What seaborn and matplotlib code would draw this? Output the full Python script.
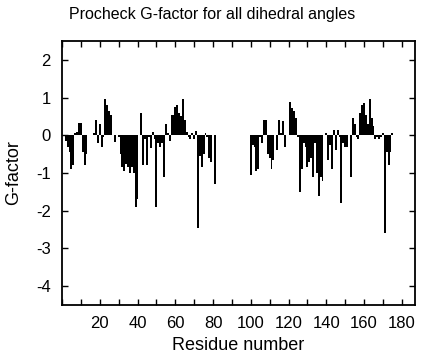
import numpy as np
import matplotlib
matplotlib.use("Agg")
import matplotlib.pyplot as plt
from matplotlib.ticker import MultipleLocator
import seaborn as sns
import pandas as pd

sns.set_style("ticks", {"axes.edgecolor": "black", "text.color": "black",
                        "axes.labelcolor": "black", "xtick.color": "black",
                        "ytick.color": "black"})
plt.rcParams['font.family'] = ['Liberation Sans', 'DejaVu Sans']
plt.rcParams['axes.unicode_minus'] = False

# residues 1-81 and 100-175, G-factor per residue
res_a = list(range(1, 82))
gf_a = [0.0, -0.15, -0.3, -0.45, -0.9, -0.8, 0.05, 0.08, 0.32, 0.32,
        -0.45, -0.8, -0.5, 0.0, 0.0, 0.0, 0.05, 0.4, -0.2, 0.3,
        -0.3, -0.05, 0.95, 0.8, 0.65, 0.55, 0.0, -0.18, 0.0, -0.05,
        -0.5, -0.85, -0.95, -0.75, -0.85, -1.0, -0.85, -1.0, -1.9, -1.7,
        0.0, 0.6, -0.8, -0.1, -0.8, -0.05, -0.35, 0.1, -0.1, -1.9,
        -0.2, -0.3, -0.2, -1.1, 0.3, 0.05, -0.15, 0.55, 0.55, 0.75,
        0.8, 0.6, 0.5, 0.97, 0.4, 0.1, -0.05, -0.1, 0.05, -0.1,
        0.12, -2.45, -0.55, -0.85, -0.5, 0.05, -0.05, -0.6, -0.7, 0.0,
        -1.3]
res_b = list(range(100, 176))
gf_b = [-1.05, -0.25, -0.3, -0.95, -0.9, -0.05, -0.2, 0.4, 0.4, -0.5,
        -0.6, -0.9, -0.65, 0.0, -0.4, 0.4, 0.05, 0.38, -0.3, 0.0,
        0.0, 0.88, 0.72, 0.65, 0.45, -0.05, -1.5, -0.9, -0.2, -0.3,
        -0.85, -0.7, -0.6, -1.1, -0.2, -1.0, -1.6, -1.1, -1.2, 0.0,
        0.05, -0.65, -0.25, -0.9, 0.15, -0.4, 0.15, -0.05, -1.8, -0.2,
        -0.3, -0.3, 0.0, -1.1, 0.45, 0.3, -0.05, -0.1, 0.6, 0.8,
        0.85, 0.55, 0.3, 0.97, 0.45, 0.25, -0.1, -0.05, -0.1, -0.05,
        0.05, -2.6, -0.45, -0.8, -0.45, 0.05]

df = pd.DataFrame({"Residue": res_a + res_b, "G": gf_a + gf_b})

fig = plt.figure(figsize=(4.24, 3.6), dpi=100)
ax = fig.add_axes([62/424, 1-305/360, (415-62)/424, (305-41)/360])

sns.barplot(data=df, x="Residue", y="G", native_scale=True, color="black",
            width=1.0, linewidth=0, errorbar=None, ax=ax)

ax.set_xlim(0, 187)
ax.set_ylim(-4.5, 2.5)
ax.xaxis.set_major_locator(MultipleLocator(20))
ax.xaxis.set_minor_locator(MultipleLocator(10))
ax.set_yticks([-4, -3, -2, -1, 0, 1, 2])
ax.set_xticks(range(20, 181, 20))
ax.tick_params(axis="both", which="both", direction="in", top=True, right=True,
               length=4, width=1, labelsize=12)
ax.tick_params(axis="y", pad=8)
ax.tick_params(axis="x", pad=8)
for s in ax.spines.values():
    s.set_linewidth(1.3)

ax.set_xlabel("Residue number", fontsize=13, labelpad=4)
ax.set_ylabel("G-factor", fontsize=13, labelpad=10)
fig.suptitle("Procheck G-factor for all dihedral angles", fontsize=11.5, x=0.5, y=0.98)

fig.savefig("out.png", dpi=100)
